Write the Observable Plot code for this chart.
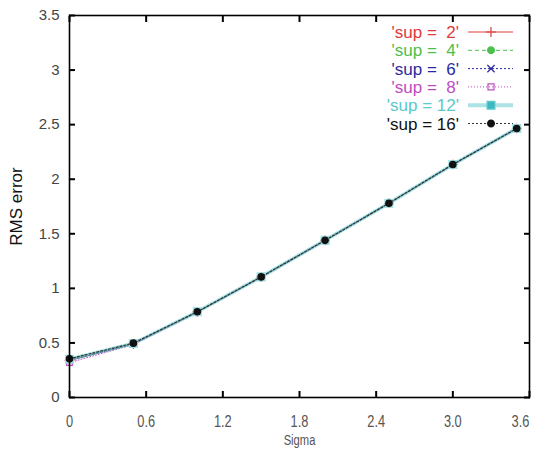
<!DOCTYPE html>
<html>
<head>
<meta charset="utf-8">
<script src="https://cdn.jsdelivr.net/npm/d3@7"></script>
<script src="https://cdn.jsdelivr.net/npm/@observablehq/plot@0.6"></script>
<style>
  html, body { margin: 0; padding: 0; background: #fff; }
  #chart { width: 536px; height: 451px; }
</style>
</head>
<body>
<div id="chart"></div>
<script>
// ---- data ----
const sigma = [0, 0.5, 1.0, 1.5, 2.0, 2.5, 3.0, 3.5];
const sup2  = [0.34, 0.49, 0.785, 1.105, 1.44, 1.78, 2.135, 2.465];
const sup4  = [0.35, 0.495, 0.785, 1.105, 1.44, 1.78, 2.135, 2.465];
const sup6  = [0.34, 0.49, 0.785, 1.105, 1.44, 1.78, 2.135, 2.465];
const sup8  = [0.32, 0.485, 0.78, 1.10, 1.435, 1.78, 2.13, 2.465];
const sup12 = [0.35, 0.495, 0.785, 1.105, 1.44, 1.78, 2.135, 2.465];
const sup16 = [0.355, 0.498, 0.785, 1.105, 1.44, 1.78, 2.135, 2.465];
const seriesNames = ["'sup =  2'", "'sup =  4'", "'sup =  6'", "'sup =  8'", "'sup = 12'", "'sup = 16'"];
const seriesValues = [sup2, sup4, sup6, sup8, sup12, sup16];
const xTicks = [0, 0.6, 1.2, 1.8, 2.4, 3.0, 3.6];
const xTickLabels = ["0", "0.6", "1.2", "1.8", "2.4", "3.0", "3.6"];
const yTicks = [0, 0.5, 1, 1.5, 2, 2.5, 3, 3.5];
const yTickLabels = ["0", "0.5", "1", "1.5", "2", "2.5", "3", "3.5"];

// ---- styles ----
const styles = [
  {color: "#e03a3a", width: 1,   dash: null,  symbol: "plus",   fill: "none"},
  {color: "#4cc04c", width: 1,   dash: "4,3", symbol: "circle", fill: "#4cc04c"},
  {color: "#2a2aa0", width: 1,   dash: "2,2", symbol: "times",  fill: "none"},
  {color: "#c04cc0", width: 1,   dash: "1,2", symbol: "square", fill: "none"},
  {color: "#5cc8cc", width: 3.5, dash: null,  symbol: "square", fill: "#3cb8c0"},
  {color: "#333333", width: 1.2, dash: "2,2", symbol: "circle", fill: "#111111"}
];

const table = [];
seriesNames.forEach((name, i) => {
  seriesValues[i].forEach((v, j) => table.push({series: name, idx: i, sigma: sigma[j], value: v}));
});

const marks = [];
seriesNames.forEach((name, i) => {
  const st = styles[i];
  const data = table.filter(d => d.idx === i);
  marks.push(Plot.line(data, {x: "sigma", y: "value", stroke: st.color, strokeWidth: st.width,
    strokeDasharray: st.dash, strokeOpacity: i === 4 ? 0.6 : 1}));
  marks.push(Plot.dot(data, {x: "sigma", y: "value", symbol: st.symbol,
    r: i === 4 ? 4 : 3.2,
    stroke: st.fill === "none" ? st.color : (i === 4 ? "#9ee0e4" : "#111"),
    strokeWidth: i === 4 ? 2 : 1.2,
    fill: st.fill}));
});

const lastX = xTicks[xTicks.length - 1];
const xLabelOpts = {tickSize: 0, tickPadding: 18, fontSize: 16,
  fontFamily: "Liberation Sans, Arial, sans-serif", fill: "#555"};

const plot = Plot.plot({
  width: 536,
  height: 451,
  marginLeft: 69,
  marginRight: 7,
  marginTop: 15,
  marginBottom: 54,
  style: {background: "#fff", overflow: "visible"},
  x: {domain: [0, 3.6], ticks: xTicks},
  y: {domain: [0, 3.5], ticks: yTicks},
  marks: [
    ...marks,
    Plot.frame({stroke: "#000", strokeWidth: 1.6}),
    Plot.axisY(yTicks, {anchor: "left", tickSize: -6, tickPadding: 16, strokeWidth: 2,
      tickFormat: (d) => yTickLabels[yTicks.indexOf(d)],
      fontSize: 15, fontFamily: "Liberation Sans, Arial, sans-serif", fill: "#444",
      label: "RMS error", labelAnchor: "center", labelArrow: "none", labelOffset: 60}),
    Plot.axisY(yTicks, {anchor: "right", tickSize: -6, strokeWidth: 2, tickFormat: () => "", label: null}),
    Plot.axisX(xTicks, {anchor: "bottom", tickSize: -6, strokeWidth: 2, tickFormat: () => "",
      label: "Sigma", labelAnchor: "center", labelArrow: "none", labelOffset: 47}),
    Plot.axisX(xTicks.slice(0, -1), {anchor: "bottom", ...xLabelOpts, label: null,
      tickFormat: (d) => xTickLabels[xTicks.indexOf(d)]}),
    Plot.axisX([lastX], {anchor: "bottom", ...xLabelOpts, label: null, dx: -9,
      tickFormat: (d) => xTickLabels[xTicks.indexOf(d)]}),
    Plot.axisX(xTicks, {anchor: "top", tickSize: -6, strokeWidth: 2, tickFormat: () => "", label: null})
  ]
});

document.getElementById("chart").appendChild(plot);

const svg = d3.select(plot);
// condense text horizontally (narrow font look)
function condense(sel, factor) {
  sel.each(function() {
    const len = this.getComputedTextLength();
    if (len > 0) {
      this.setAttribute("textLength", (len * factor).toFixed(2));
      this.setAttribute("lengthAdjust", "spacingAndGlyphs");
    }
  });
}
condense(svg.selectAll("[aria-label='x-axis tick label'] text"), 0.8);
svg.selectAll("[aria-label='y-axis label'] text")
  .attr("font-size", 17).attr("fill", "#111")
  .attr("font-family", "Liberation Sans, Arial, sans-serif");
const xl = svg.selectAll("[aria-label='x-axis label'] text")
  .attr("font-size", 14).attr("fill", "#555")
  .attr("font-family", "Liberation Sans, Arial, sans-serif");
condense(xl, 0.8);

// ---- legend (top right, inside frame) ----
const leg = svg.append("g").attr("class", "legend");
seriesNames.forEach((name, i) => {
  const st = styles[i];
  const cy = 32 + i * 18.3;
  leg.append("text")
    .attr("x", 459).attr("y", cy).attr("dy", "0.36em")
    .attr("text-anchor", "end")
    .attr("font-family", "Liberation Sans, Arial, sans-serif")
    .attr("font-size", 17)
    .attr("fill", i === 5 ? "#111" : st.color)
    .attr("xml:space", "preserve")
    .style("white-space", "pre")
    .text(name);
  leg.append("line")
    .attr("x1", 468).attr("x2", 513).attr("y1", cy).attr("y2", cy)
    .attr("stroke", st.color)
    .attr("stroke-width", i === 4 ? 4 : st.width)
    .attr("stroke-opacity", i === 4 ? 0.5 : 1)
    .attr("stroke-dasharray", st.dash);
  const sym = d3.symbol().type({
    plus: d3.symbolPlus, circle: d3.symbolCircle, times: d3.symbolX, square: d3.symbolSquare
  }[st.symbol]).size(i === 4 ? 60 : 36);
  leg.append("path")
    .attr("transform", `translate(491,${cy})`)
    .attr("d", sym())
    .attr("fill", st.fill)
    .attr("stroke", i === 5 ? "#111" : st.color)
    .attr("stroke-width", 1.2);
});
</script>
</body>
</html>
